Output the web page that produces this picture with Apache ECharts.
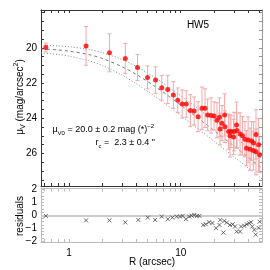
<!DOCTYPE html>
<html><head><meta charset="utf-8">
<script src="https://cdn.jsdelivr.net/npm/echarts@6/dist/echarts.min.js"></script>
<style>html,body{margin:0;padding:0;background:#fff}#c{width:270px;height:270px}</style>
</head><body><div id="c"></div>
<script>
// ---- data ----
const radius = [0.62,1.42,2.30,3.19,4.10,5.04,5.95,6.76,7.65,8.59,9.40,10.3,11.2,12.2,13.2,14.3,15.5,16.5,17.4,18.7,19.9,21.1,22.2,22.5,23.4,24.7,24.9,26.8,28.2,30.0,31.6,31.9,27.6,29.7,34.0,35.7,37.6,40.1,43.1,44.9,47.2,38.8,41.7,44.7,47.2,49.8,50.8];
const mu = [19.98,19.89,20.28,20.60,21.12,21.68,21.83,22.27,22.36,22.68,22.98,23.19,23.19,23.56,23.59,23.91,23.43,23.43,23.81,23.84,23.87,24.12,23.95,24.61,24.28,23.81,24.48,24.76,24.76,24.76,24.38,24.70,25.00,25.06,24.89,25.00,25.19,25.23,25.29,25.40,24.92,25.70,25.76,25.84,25.91,25.51,26.08];
const muErr = [0.25,1.1,1.08,0.85,0.74,0.65,0.75,0.7,0.8,0.75,0.7,0.8,0.75,0.9,0.8,0.85,1.2,1.1,0.9,1.0,0.8,1.0,1.1,0.9,1.0,1.2,0.9,1.0,0.9,1.1,1.3,1.0,1.2,1.0,1.2,1.1,1.0,1.3,1.1,1.2,1.4,1.0,1.2,1.1,1.3,1.5,1.0];
const modelR = [0.56,0.8,1,1.5,2,3,4,6,8,10,15,20,30,40,53.4];
const modelMid = [20.06,20.12,20.19,20.38,20.61,21.08,21.51,22.23,22.79,23.25,24.10,24.71,25.58,26.21,26.83];
const modelUp = [19.85,19.89,19.94,20.09,20.28,20.67,21.06,21.73,22.28,22.72,23.56,24.17,25.04,25.66,26.28];
const modelLow = [20.29,20.38,20.47,20.73,21.01,21.56,22.04,22.80,23.38,23.84,24.70,25.32,26.20,26.82,27.45];
const resR = [0.62,1.42,2.30,3.19,4.17,5.07,5.89,6.76,7.66,8.41,9.21,9.86,10.4,11.1,11.9,12.5,13.2,14.0,14.7,15.9,16.8,17.9,19.2,20.7,22.2,22.6,24.1,24.6,25.8,27.6,29.2,30.6,31.7,34.0,34.7,37.1,39.0,40.9,42.6,43.7,45.6,46.9,49.8,50.8];
const resVal = [-0.05,-0.40,-0.40,-0.55,-0.36,-0.18,-0.36,-0.10,-0.30,-0.18,-0.10,-0.10,-0.05,-0.30,-0.10,-0.03,0.02,-0.05,-0.05,-0.75,-0.70,-0.54,-0.60,-1.00,-0.75,-0.36,-1.34,-0.44,-0.57,-0.75,-0.70,-0.87,-1.26,-1.26,-0.87,-0.82,-0.70,-0.62,-0.54,-0.87,-1.13,-1.50,-0.98,-0.50];
const xTickLabels = [1, 10];
const xMinorTicks = [0.6,0.7,0.8,0.9,1,2,3,4,5,6,7,8,9,10,20,30,40,50];
const yTickLabels = [20, 22, 24, 26];
const resTickLabels = [-2, -1, 0, 1, 2];
const rRange = [0.561, 53.4];
const muRange = [17.85, 27.85];
const resRange = [-2.07, 2.07];

// ---- build ----
const lg = v => Math.log10(v);
const XMIN = lg(rRange[0]), XMAX = lg(rRange[1]);
const FONT = 'Liberation Sans';
const yMinor = []; for (let v = 18; v <= 27.51; v += 0.5) yMinor.push(+v.toFixed(2));
const rMinor = []; for (let v = -2; v <= 2.001; v += 0.25) rMinor.push(+v.toFixed(2));

function xAx(grid, pos, color, labels) {
  return {
    type: 'value', gridIndex: grid, position: pos, min: XMIN, max: XMAX,
    axisLine: {show: true, onZero: false, lineStyle: {color: color, width: 1}},
    axisTick: {show: true, inside: true, length: 3, customValues: xMinorTicks.map(lg), lineStyle: {color: color}},
    axisLabel: labels ? {show: true, customValues: xTickLabels.map(lg), formatter: v => String(Math.round(Math.pow(10, v))), color: '#000', fontFamily: FONT, fontSize: 10, margin: 6} : {show: false},
    splitLine: {show: false}
  };
}
function yAx(grid, pos, color, rng, inv, ticks, labels) {
  return {
    type: 'value', gridIndex: grid, position: pos, min: rng[0], max: rng[1], inverse: inv,
    axisLine: {show: true, onZero: false, lineStyle: {color: color, width: 1}},
    axisTick: {show: true, inside: true, length: 3, customValues: ticks, lineStyle: {color: color}},
    axisLabel: labels ? {show: true, customValues: labels, formatter: v => String(v).replace('-', '\u2212'), color: '#000', fontFamily: FONT, fontSize: 10, margin: 4} : {show: false},
    splitLine: {show: false}
  };
}

const errData = radius.map((r, i) => [lg(r), mu[i], mu[i] - muErr[i], mu[i] + muErr[i]]);
const pts = radius.map((r, i) => [lg(r), mu[i]]);
const curve = arr => modelR.map((r, i) => [lg(r), arr[i]]);
const resPts = resR.map((r, i) => [lg(r), resVal[i]]);

const ebColor = '#f5a8a8';
const option = {
  animation: false,
  grid: [
    {left: 41, top: 10, width: 221, height: 176},
    {left: 41, top: 188.5, width: 221, height: 53.5}
  ],
  xAxis: [xAx(0, 'bottom', '#333', false), xAx(0, 'top', '#333', false), xAx(1, 'bottom', '#bbb', true), xAx(1, 'top', '#bbb', false)],
  yAxis: [
    yAx(0, 'left', '#333', muRange, true, yMinor, yTickLabels),
    yAx(0, 'right', '#999', muRange, true, yMinor, null),
    yAx(1, 'left', '#bbb', resRange, false, rMinor, resTickLabels),
    yAx(1, 'right', '#bbb', resRange, false, rMinor, null)
  ],
  series: [
    {type: 'line', xAxisIndex: 0, yAxisIndex: 0, data: curve(modelUp), smooth: 0.3, showSymbol: false, lineStyle: {color: '#888', width: 1, type: [1, 2]}, z: 1, clip: true},
    {type: 'line', xAxisIndex: 0, yAxisIndex: 0, data: curve(modelLow), smooth: 0.3, showSymbol: false, lineStyle: {color: '#888', width: 1, type: [1, 2]}, z: 1, clip: true},
    {type: 'line', xAxisIndex: 0, yAxisIndex: 0, data: curve(modelMid), smooth: 0.3, showSymbol: false, lineStyle: {color: '#777', width: 1, type: [3, 3]}, z: 1, clip: true},
    {type: 'custom', xAxisIndex: 0, yAxisIndex: 0, data: errData, encode: {x: 0, y: [1, 2, 3]}, z: 2,
      renderItem: function (params, api) {
        const x = api.value(0);
        const lo = api.coord([x, api.value(2)]);
        const hi = api.coord([x, api.value(3)]);
        const w = 2, st = {stroke: ebColor, lineWidth: 1};
        return {type: 'group', children: [
          {type: 'line', shape: {x1: lo[0], y1: lo[1], x2: hi[0], y2: hi[1]}, style: st},
          {type: 'line', shape: {x1: lo[0] - w, y1: lo[1], x2: lo[0] + w, y2: lo[1]}, style: st},
          {type: 'line', shape: {x1: hi[0] - w, y1: hi[1], x2: hi[0] + w, y2: hi[1]}, style: st}
        ]};
      }
    },
    {type: 'scatter', xAxisIndex: 0, yAxisIndex: 0, data: pts, symbol: 'circle', symbolSize: 5, itemStyle: {color: '#ff0000'}, z: 3},
    {type: 'scatter', xAxisIndex: 2, yAxisIndex: 2, data: resPts, symbol: 'path://M0,0L10,10M10,0L0,10', symbolSize: 4,
      itemStyle: {color: 'transparent', borderColor: '#444', borderWidth: 1}, z: 3,
      markLine: {silent: true, symbol: 'none', label: {show: false}, lineStyle: {color: '#ccc', width: 2, type: 'solid'}, data: [{yAxis: 0}], z: 1}
    }
  ],
  graphic: [
    {type: 'text', x: 20, y: 97, rotation: Math.PI / 2, z: 10,
      style: {text: '{a|μ}{s|V}{a| (mag/arcsec}{p|2}{a|)}', align: 'center', verticalAlign: 'middle', fill: '#000',
        rich: {a: {fontFamily: FONT, fontSize: 10, lineHeight: 14, verticalAlign: 'middle'}, s: {fontFamily: FONT, fontSize: 7, lineHeight: 14, verticalAlign: 'bottom'}, p: {fontFamily: FONT, fontSize: 7, lineHeight: 14, verticalAlign: 'top'}}}},
    {type: 'text', x: 20, y: 216, rotation: Math.PI / 2, z: 10,
      style: {text: 'residuals', align: 'center', verticalAlign: 'middle', fill: '#000', font: '10px "Liberation Sans"'}},
    {type: 'text', x: 152, y: 262, z: 10,
      style: {text: 'R (arcsec)', align: 'center', verticalAlign: 'middle', fill: '#000', font: '10px "Liberation Sans"'}},
    {type: 'text', x: 198, y: 25, z: 10,
      style: {text: 'HW5', align: 'center', verticalAlign: 'middle', fill: '#000', font: '10px "Liberation Sans"'}},
    {type: 'text', x: 154, y: 130, z: 10,
      style: {text: '{a|μ}{s|V0}{a| = 20.0 ± 0.2 mag (*)}{p|\u22122}', align: 'right', verticalAlign: 'middle', fill: '#000',
        rich: {a: {fontFamily: FONT, fontSize: 9, lineHeight: 13, verticalAlign: 'middle'}, s: {fontFamily: FONT, fontSize: 6, lineHeight: 13, verticalAlign: 'bottom'}, p: {fontFamily: FONT, fontSize: 6, lineHeight: 13, verticalAlign: 'top'}}}},
    {type: 'text', x: 155, y: 143, z: 10,
      style: {text: '{a|r}{s|c}{a| =  2.3 ± 0.4 "}', align: 'right', verticalAlign: 'middle', fill: '#000',
        rich: {a: {fontFamily: FONT, fontSize: 9, lineHeight: 13, verticalAlign: 'middle'}, s: {fontFamily: FONT, fontSize: 6, lineHeight: 13, verticalAlign: 'bottom'}}}}
  ]
};
const chart = echarts.init(document.getElementById('c'), null, {renderer: 'canvas'});
chart.setOption(option);
</script>
</body></html>
